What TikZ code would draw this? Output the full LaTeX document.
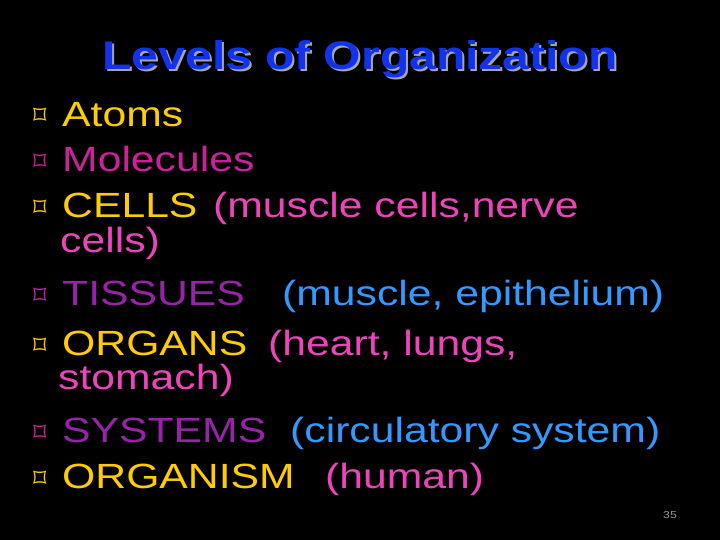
\documentclass[tikz,border=0pt]{standalone}
\usepackage{fontspec}
\setmainfont[FakeStretch=1.22]{Liberation Sans}
\newfontfamily\titf[FakeStretch=1.2]{Liberation Sans}
\newfontfamily\symf{DejaVu Sans}
\definecolor{yel}{HTML}{FFCC00}
\definecolor{mag}{HTML}{CC2299}
\definecolor{pnk}{HTML}{EE44BB}
\definecolor{pur}{HTML}{9922AA}
\definecolor{blu}{HTML}{3399FF}
\definecolor{ttl}{HTML}{1133EE}
\begin{document}
\begin{tikzpicture}[x=1pt,y=-1pt,
  t/.style={anchor=base west,inner sep=0pt,font=\fontsize{35}{35}\selectfont},
  bl/.style={anchor=base west,inner sep=0pt,font=\symf\fontsize{26}{26}\selectfont}]
\fill[black] (0,0) rectangle (720,540);
\useasboundingbox (0,0) rectangle (720,540);
\node[anchor=base,inner sep=0pt,font=\titf\bfseries\fontsize{40}{40}\selectfont,text=gray!70] (sh) at (362,72) {Levels of Organization};
\node[anchor=base,inner sep=0pt,font=\titf\bfseries\fontsize{40}{40}\selectfont,text=ttl] (ti) at (360,70) {Levels of Organization};
\node[bl,text=yel] (b1) at (33,125) {⌑};
\node[t,text=yel] (a1) at (62,127) {Atoms};
\node[bl,text=mag] (b2) at (33,171) {⌑};
\node[t,text=mag] (a2) at (62,172) {Molecules};
\node[bl,text=yel] (b3) at (33,217) {⌑};
\node[t,text=yel] (a3) at (62,218) {CELLS};
\node[t,text=pnk] (c3) at (213,218) {(muscle cells,nerve};
\node[t,text=pnk] (d3) at (60,252) {cells)};
\node[bl,text=mag] (b4) at (33,304) {⌑};
\node[t,text=pur] (a4) at (62,305) {TISSUES};
\node[t,text=blu] (c4) at (282,305) {(muscle, epithelium)};
\node[bl,text=yel] (b5) at (33,354) {⌑};
\node[t,text=yel] (a5) at (62,355) {ORGANS};
\node[t,text=pnk] (c5) at (268,355) {(heart, lungs,};
\node[t,text=pnk] (d5) at (58,389) {stomach)};
\node[bl,text=mag] (b6) at (33,441) {⌑};
\node[t,text=pur] (a6) at (62,442) {SYSTEMS};
\node[t,text=blu] (c6) at (290,442) {(circulatory system)};
\node[bl,text=yel] (b7) at (33,487) {⌑};
\node[t,text=yel] (a7) at (62,488) {ORGANISM};
\node[t,text=pnk] (c7) at (325,488) {(human)};
\node[anchor=base east,inner sep=0pt,font=\fontsize{10}{10}\selectfont,text=gray!80] (pg) at (677,518) {35};
\end{tikzpicture}
\end{document}
